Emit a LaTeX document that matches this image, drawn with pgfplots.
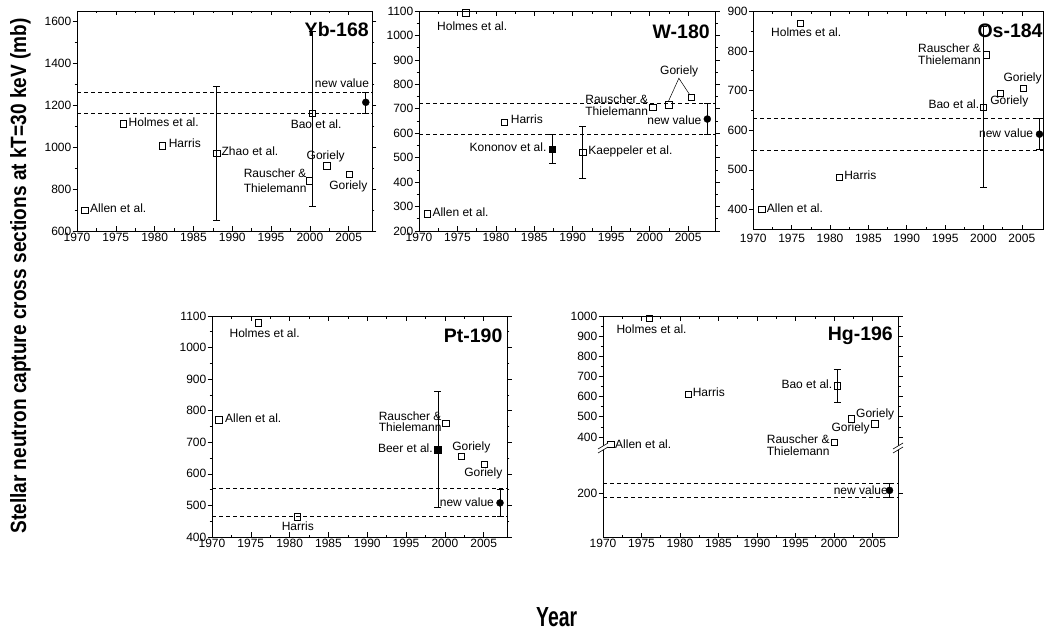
\documentclass[border=0pt]{standalone}
\usepackage{pgfplots}
\pgfplotsset{compat=1.18}
\usepackage{fontspec}
\setmainfont{Liberation Sans}
\usepackage{graphicx}

\newcommand{\lbl}{\fontsize{12}{14}\selectfont}
\newcommand{\ttl}{\fontsize{19.5}{20}\selectfont\bfseries}

\tikzset{
 lb/.style={font=\lbl, inner sep=0pt},
 ttlst/.style={font=\ttl, inner sep=0pt, anchor=east},
}
\pgfplotsset{
 panel/.style={
  scale only axis, clip=false, anchor=south west,
  xmin=1970, xmax=2008,
  xtick={1970,1975,...,2005}, minor x tick num=1, minor y tick num=1,
  tick align=inside, ytick align=outside,
  major tick length=4.5pt, minor tick length=2.5pt,
  axis line style={line width=0.9pt, black},
  tick style={black, line width=0.6pt},
  tick label style={font=\lbl},
  /pgf/number format/assume math mode=true,
  /pgf/number format/1000 sep={},
  xticklabel style={inner sep=1.5pt},
  yticklabel style={inner sep=1pt},
 },
 opensq/.style={only marks, black, mark=square, mark size=3.2pt, mark options={solid, fill=white, line width=0.6pt}},
 fillsq/.style={only marks, black, mark=square*, mark size=3.3pt, mark options={solid, fill=black}},
 fillci/.style={only marks, black, mark=*, mark size=3.5pt, mark options={solid, fill=black}},
 errs/.style={error bars/y dir=both, error bars/y explicit,
   error bars/error bar style={line width=0.6pt, black, solid},
   error bars/error mark options={rotate=90, mark size=3.5pt, line width=0.6pt, black}},
 dl/.style={black, line width=0.6pt, dash pattern=on 4pt off 3pt, forget plot},
}

\begin{document}
\begin{tikzpicture}[x=1pt,y=1pt]
\path[use as bounding box] (0,0) rectangle (1044,635);

% ---------------- Yb-168 ----------------
\begin{axis}[panel, at={(77pt,404pt)}, width=295pt, height=220pt,
  ymin=600, ymax=1648, ytick={600,800,...,1600}]
\addplot[dl] coordinates {(1970,1263) (2008,1263)};
\addplot[dl] coordinates {(1970,1163) (2008,1163)};
\addplot[opensq] coordinates {(1971,700) (1976,1110) (1981,1005) (1999.9,840) (2002.2,911) (2005.1,871)};
\addplot[opensq, errs] coordinates {(1988,970) +- (0,320)};
\addplot[opensq, errs] coordinates {(2000.3,1160) += (0,390) -= (0,440)};
\addplot[fillci, errs] coordinates {(2007.2,1213) +- (0,50)};
\node[lb, anchor=mid west] at (axis cs:1971.68,703) {Allen et al.};
\node[lb, anchor=mid west] at (axis cs:1976.63,1108) {Holmes et al.};
\node[lb, anchor=mid west] at (axis cs:1981.8,1009) {Harris};
\node[lb, anchor=mid west] at (axis cs:1988.6,970) {Zhao et al.};
\node[lb, anchor=east, align=right, font=\fontsize{12}{15.5}\selectfont] at (axis cs:1999.59,840) {Rauscher \&\\Thielemann};
\node[lb, anchor=mid] at (axis cs:2000.8,1101) {Bao et al.};
\node[lb, anchor=mid] at (axis cs:2002.04,954) {Goriely};
\node[lb, anchor=mid] at (axis cs:2004.95,811) {Goriely};
\node[lb, anchor=mid east] at (axis cs:2007.64,1295) {new value};
\node[ttlst] at (axis cs:2007.6,1562) {Yb-168};
\end{axis}

% ---------------- W-180 ----------------
\begin{axis}[panel, at={(419pt,404pt)}, width=296pt, height=220pt, xmax=2008.5,
  ymin=200, ymax=1100, ytick={200,300,...,1100}]
\addplot[dl] coordinates {(1970,721) (2008.5,721)};
\addplot[dl] coordinates {(1970,595) (2008.5,595)};
\addplot[opensq] coordinates {(1971.1,270) (1976.1,1093) (1981.1,645) (2000.4,706) (2002.5,717) (2005.4,747)};
\addplot[opensq, errs] coordinates {(1991.3,522) +- (0,105)};
\addplot[fillsq, errs] coordinates {(1987.3,535) +- (0,60)};
\addplot[fillci, errs] coordinates {(2007.5,658) +- (0,63)};
\draw[line width=0.5pt] (axis cs:2002.42,729) -- (axis cs:2003.8,825) -- (axis cs:2005.23,756.5);
\node[lb, anchor=mid] at (axis cs:1976.92,1033) {Holmes et al.};
\node[lb, anchor=mid] at (axis cs:2003.84,852) {Goriely};
\node[lb, anchor=east, align=right, font=\fontsize{12}{11.7}\selectfont] at (axis cs:1999.82,714.7) {Rauscher \&\\Thielemann};
\node[lb, anchor=mid west] at (axis cs:1981.92,651) {Harris};
\node[lb, anchor=mid east] at (axis cs:1986.6,535.5) {Kononov et al.};
\node[lb, anchor=mid west] at (axis cs:1992.0,522) {Kaeppeler et al.};
\node[lb, anchor=mid west] at (axis cs:1971.73,269.6) {Allen et al.};
\node[lb, anchor=mid east] at (axis cs:2006.76,644.8) {new value};
\node[ttlst] at (axis cs:2007.84,1015) {W-180};
\end{axis}

% ---------------- Os-184 ----------------
\begin{axis}[panel, at={(753.3pt,405.7pt)}, width=290pt, height=218pt, xmax=2007.8,
  ymin=350, ymax=900, ytick={400,500,...,900},
  xticklabel style={yshift=-3pt}]
\addplot[dl] coordinates {(1970,629) (2007.8,629)};
\addplot[dl] coordinates {(1970,549) (2007.8,549)};
\addplot[opensq] coordinates {(1971.1,400) (1976.1,869) (1981.17,481) (2000.34,790) (2002.2,693) (2005.2,705)};
\addplot[opensq, errs] coordinates {(2000,658) +- (0,203)};
\addplot[fillci, errs] coordinates {(2007.3,590) +- (0,39)};
\node[lb, anchor=mid] at (axis cs:1976.9,843.7) {Holmes et al.};
\node[lb, anchor=east, align=right, font=\fontsize{12}{11.7}\selectfont] at (axis cs:1999.69,791) {Rauscher \&\\Thielemann};
\node[lb, anchor=mid] at (axis cs:2005.1,730) {Goriely};
\node[lb, anchor=mid] at (axis cs:2003.37,671) {Goriely};
\node[lb, anchor=mid east] at (axis cs:1999.47,660.4) {Bao et al.};
\node[lb, anchor=mid east] at (axis cs:2006.5,587) {new value};
\node[lb, anchor=mid west] at (axis cs:1981.83,482) {Harris};
\node[lb, anchor=mid west] at (axis cs:1971.75,400) {Allen et al.};
\node[ttlst] at (axis cs:2007.73,852) {Os-184};
\end{axis}

% ---------------- Pt-190 ----------------
\begin{axis}[panel, at={(212pt,98pt)}, width=295pt, height=221pt,
  ymin=400, ymax=1100, ytick={400,500,...,1100}]
\addplot[dl] coordinates {(1970,553) (2008,553)};
\addplot[dl] coordinates {(1970,464) (2008,464)};
\addplot[opensq] coordinates {(1970.9,771) (1976,1078) (1981,464) (2000.1,760) (2002.1,655) (2005.1,631)};
\addplot[fillsq, errs] coordinates {(1999.1,677) +- (0,183)};
\addplot[fillci, errs] coordinates {(2007.1,508) += (0,43) -= (0,44)};
\node[lb, anchor=mid] at (axis cs:1976.78,1041) {Holmes et al.};
\node[lb, anchor=mid west] at (axis cs:1971.68,771) {Allen et al.};
\node[lb, anchor=east, align=right, font=\fontsize{12}{10.7}\selectfont] at (axis cs:1999.59,765) {Rauscher \&\\Thielemann};
\node[lb, anchor=mid east] at (axis cs:1998.46,677) {Beer et al.};
\node[lb, anchor=mid] at (axis cs:2003.4,683.5) {Goriely};
\node[lb, anchor=mid] at (axis cs:2004.95,599) {Goriely};
\node[lb, anchor=mid east] at (axis cs:2006.34,505.7) {new value};
\node[lb, anchor=mid] at (axis cs:1981.05,429.5) {Harris};
\node[ttlst] at (axis cs:2007.43,1036) {Pt-190};
\end{axis}

% ---------------- Hg-196 (broken axis) ----------------
\begin{axis}[panel, name=hgup, at={(603pt,187pt)}, width=295pt, height=132pt, xmax=2008.3,
  axis x line*=top, xticklabels={},
  ymin=345, ymax=1000, ytick={400,500,...,1000}]
\addplot[opensq] coordinates {(1971,362) (1976,990) (1981.06,611) (2000.05,373) (2002.26,490) (2005.28,466)};
\addplot[opensq, errs] coordinates {(2000.4,653) +- (0,81)};
\node[lb, anchor=mid] at (axis cs:1976.3,926.5) {Holmes et al.};
\node[lb, anchor=mid west] at (axis cs:1981.63,611.5) {Harris};
\node[lb, anchor=mid east] at (axis cs:1999.79,653.5) {Bao et al.};
\node[lb, anchor=mid] at (axis cs:2005.34,510) {Goriely};
\node[lb, anchor=mid] at (axis cs:2002.15,438.5) {Goriely};
\node[lb, anchor=east, align=right, font=\fontsize{12}{12.3}\selectfont] at (axis cs:1999.44,357.5) {Rauscher \&\\Thielemann};
\node[lb, anchor=mid west] at (axis cs:1971.56,356.5) {Allen et al.};
\node[ttlst] at (axis cs:2007.65,901.5) {Hg-196};
\end{axis}
\begin{axis}[panel, name=hglow, at={(603pt,98pt)}, width=295pt, height=89pt, xmax=2008.3,
  axis x line*=bottom,
  ymin=149, ymax=254, ytick={200}, minor y tick num=0]
\addplot[dl] coordinates {(1970,212) (2008.3,212)};
\addplot[dl] coordinates {(1970,196) (2008.3,196)};
\addplot[fillci, errs] coordinates {(2007.2,204) +- (0,8)};
\node[lb, anchor=mid east] at (axis cs:2007.0,202.4) {new value};
\end{axis}
% break marks
\foreach \bx in {603,898} {
  \fill[white] (\bx-5,187-5) -- (\bx+5,187+1) -- (\bx+5,187+5) -- (\bx-5,187-1) -- cycle;
  \draw[line width=0.6pt] (\bx-5,187-5) -- (\bx+5,187+1);
  \draw[line width=0.6pt] (\bx-5,187-1) -- (\bx+5,187+5);
}

% axis titles
\node[rotate=90, anchor=base, inner sep=0pt] at (26pt,359pt)
  {\resizebox{515pt}{16pt}{\bfseries Stellar neutron capture cross sections at kT=30 keV (mb)}};
\node[anchor=base west, inner sep=0pt] at (536pt,8.3pt)
  {\resizebox{41pt}{19pt}{\bfseries Year}};
\end{tikzpicture}
\end{document}
